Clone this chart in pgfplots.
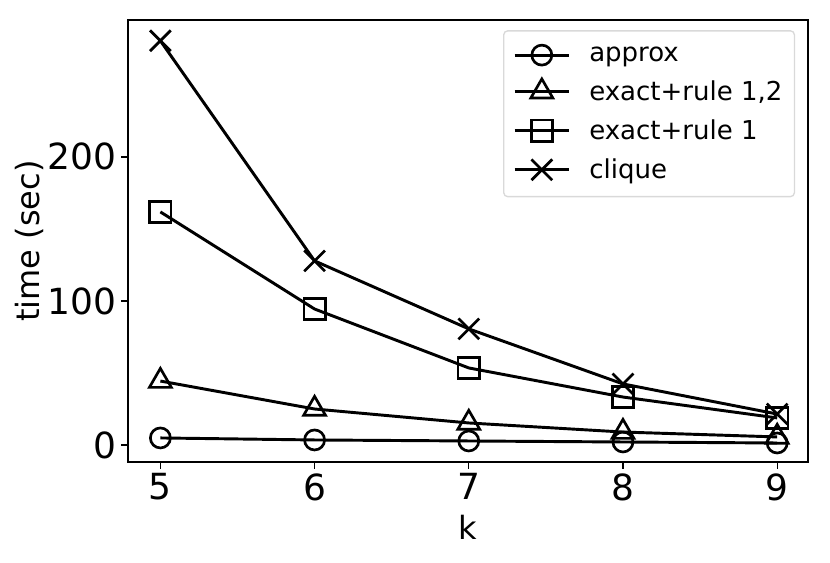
\documentclass[border=0pt]{standalone}
\usepackage{fontspec}
\setmainfont{DejaVu Sans}
\usepackage{pgfplots}
\pgfplotsset{compat=1.18}
\begin{document}
\begin{tikzpicture}
\begin{axis}[
    scale only axis,
    width=510pt, height=331.5pt,
    xmin=4.79, xmax=9.2,
    ymin=-11.8, ymax=295,
    xtick={5,6,7,8,9},
    ytick={0,100,200},
    tick align=outside,
    tick pos=left,
    major tick length=5pt,
    every tick/.style={black, line width=1pt},
    axis line style={line width=1pt},
    /pgf/number format/assume math mode=true,
    tick label style={font=\fontsize{27}{30}\selectfont},
    label style={font=\fontsize{24}{28}\selectfont},
    xlabel={k},
    ylabel={time (sec)},
    xlabel style={yshift=-4pt},
    ylabel style={yshift=-4pt},
    legend cell align=left,
    legend style={
        at={(0.981,0.977)}, anchor=north east,
        font=\fontsize{19.5}{22}\selectfont,
        draw=black!15, line width=1pt, rounded corners=3pt,
        row sep=9pt, inner xsep=7pt, inner ysep=10pt,
        /tikz/every odd column/.append style={column sep=12pt},
    },
    legend image code/.code={
        \draw[mark repeat=2,mark phase=2] plot coordinates {(0cm,0cm) (0.72cm,0cm) (1.44cm,0cm)};
    },
    every axis plot/.append style={black, line width=2.2pt, mark options={solid, fill=none, line width=2pt}},
]
\addplot[mark=o, mark size=7.5pt] coordinates {
    (5,4.9) (6,3.5) (7,2.8) (8,2.1) (9,1.4)
};
\addplot[mark=triangle, mark size=9.5pt] coordinates {
    (5,44.4) (6,25) (7,15.3) (8,9) (9,5.6)
};
\addplot[mark=square, mark size=8pt] coordinates {
    (5,161.8) (6,94.4) (7,53.5) (8,33.3) (9,18.8)
};
\addplot[mark=x, mark size=11pt] coordinates {
    (5,280.6) (6,127.8) (7,80.6) (8,42.4) (9,21.5)
};
\legend{approx, exact+rule 1{,}2, exact+rule 1, clique}
\end{axis}
\path (-96pt,-75pt) rectangle (526.5pt,346.5pt);
\end{tikzpicture}
\end{document}
